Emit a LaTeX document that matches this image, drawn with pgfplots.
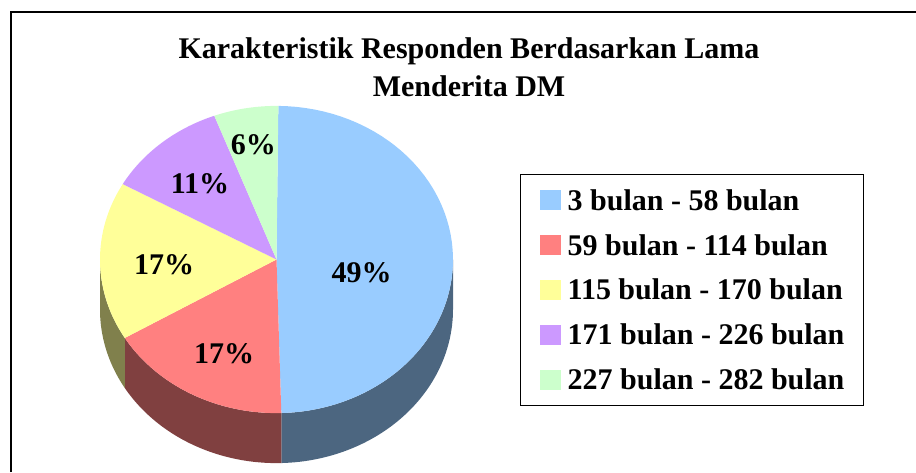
\documentclass[border=0pt]{standalone}
\usepackage{pgfplots}
\pgfplotsset{compat=1.18}
\usepackage{pgfplotstable}
\usepackage{fontspec}
\setmainfont{Liberation Serif}

\definecolor{cA}{HTML}{99CCFF}
\definecolor{cB}{HTML}{FF8080}
\definecolor{cC}{HTML}{FFFF99}
\definecolor{cD}{HTML}{CC99FF}
\definecolor{cE}{HTML}{CCFFCC}
\definecolor{sA}{HTML}{4C6680}
\definecolor{sB}{HTML}{804040}
\definecolor{sC}{HTML}{80804C}

% share of each group (percent)
\pgfplotstableread{
pct
49.4
16.9
16.7
11.1
5.9
}\piedata

\pgfplotstablegetelem{0}{pct}\of\piedata \let\vA\pgfplotsretval
\pgfplotstablegetelem{1}{pct}\of\piedata \let\vB\pgfplotsretval
\pgfplotstablegetelem{2}{pct}\of\piedata \let\vC\pgfplotsretval
\pgfplotstablegetelem{3}{pct}\of\piedata \let\vD\pgfplotsretval
\pgfplotstablegetelem{4}{pct}\of\piedata \let\vE\pgfplotsretval

% cumulative angles, clockwise from 12 o'clock
\pgfmathsetmacro\bZ{0.6}
\pgfmathsetmacro\bA{\bZ+3.6*\vA}
\pgfmathsetmacro\bB{\bA+3.6*\vB}
\pgfmathsetmacro\bC{\bB+3.6*\vC}
\pgfmathsetmacro\bD{\bC+3.6*\vD}
\pgfmathsetmacro\bE{\bD+3.6*\vE}

\def\cx{276.5}
\def\cy{259.5}
\def\rx{176.5}
\def\ry{153.6}
\def\dep{50}

% top face of a slice: colour, start angle, end angle
\newcommand{\topslice}[3]{%
  \addplot[fill=#1, draw=none, samples at={0,1,...,60,80}, variable=\s]
    ({\cx + (\s<70)*\rx*sin(#2+(#3-#2)*\s/60)},
     {\cy - (\s<70)*\ry*cos(#2+(#3-#2)*\s/60)});
}
% visible side of a slice: colour, start angle, end angle (within 90..270)
\newcommand{\sideslice}[3]{%
  \addplot[fill=#1, draw=none, forget plot, samples at={0,1,...,60,100,101,...,160}, variable=\s]
    ({\cx + \rx*sin(ifthenelse(\s<80, #2+(#3-#2)*\s/60, #3-(#3-#2)*(\s-100)/60))},
     {\cy - \ry*cos(ifthenelse(\s<80, #2+(#3-#2)*\s/60, #3-(#3-#2)*(\s-100)/60)) + (\s>80)*\dep});
}

\begin{document}
\begin{tikzpicture}
\begin{axis}[
  scale only axis, width=916pt, height=472pt,
  xmin=0, xmax=916, ymin=0, ymax=472, y dir=reverse,
  hide axis, clip=false,
  legend image code/.code={%
    \fill[#1, draw=none] (0pt,-10pt) rectangle (21pt,10pt);},
  legend style={
    at={(axis cs:520,174)}, anchor=north west,
    draw=black, line width=1.3pt,
    font=\fontsize{30}{32}\selectfont\bfseries,
    inner xsep=19pt, inner ysep=15.5pt,
    nodes={inner sep=0pt, text height=20pt, text depth=0pt, anchor=west},
    row sep=24.9pt, column sep=7pt,
  },
]
\sideslice{sA}{90}{\bA}
\sideslice{sB}{\bA}{\bB}
\sideslice{sC}{\bB}{270}

\topslice{cA}{\bZ}{\bA}
\topslice{cB}{\bA}{\bB}
\topslice{cC}{\bB}{\bC}
\topslice{cD}{\bC}{\bD}
\topslice{cE}{\bD}{\bE}

\legend{3 bulan - 58 bulan, 59 bulan - 114 bulan, 115 bulan - 170 bulan, 171 bulan - 226 bulan, 227 bulan - 282 bulan}

\begin{scope}[every node/.style={font=\fontsize{30}{32}\selectfont\bfseries, anchor=base, inner sep=0pt}]
\node at (axis cs:361.7,282.7) {49\%};
\node at (axis cs:224.2,363) {17\%};
\node at (axis cs:164.2,274) {17\%};
\node at (axis cs:200,193.3) {11\%};
\node at (axis cs:253.3,154) {6\%};
\end{scope}

\node[font=\fontsize{30}{37.7}\selectfont\bfseries, align=center, anchor=base, inner sep=0pt]
  at (axis cs:469,96) {Karakteristik Responden Berdasarkan Lama\\Menderita DM};

\draw[line width=2pt, black] (axis cs:11,472) -- (axis cs:11,12) -- (axis cs:916,12);
\end{axis}
\pgfresetboundingbox
\path (0,0) rectangle (916pt,472pt);
\end{tikzpicture}
\end{document}
